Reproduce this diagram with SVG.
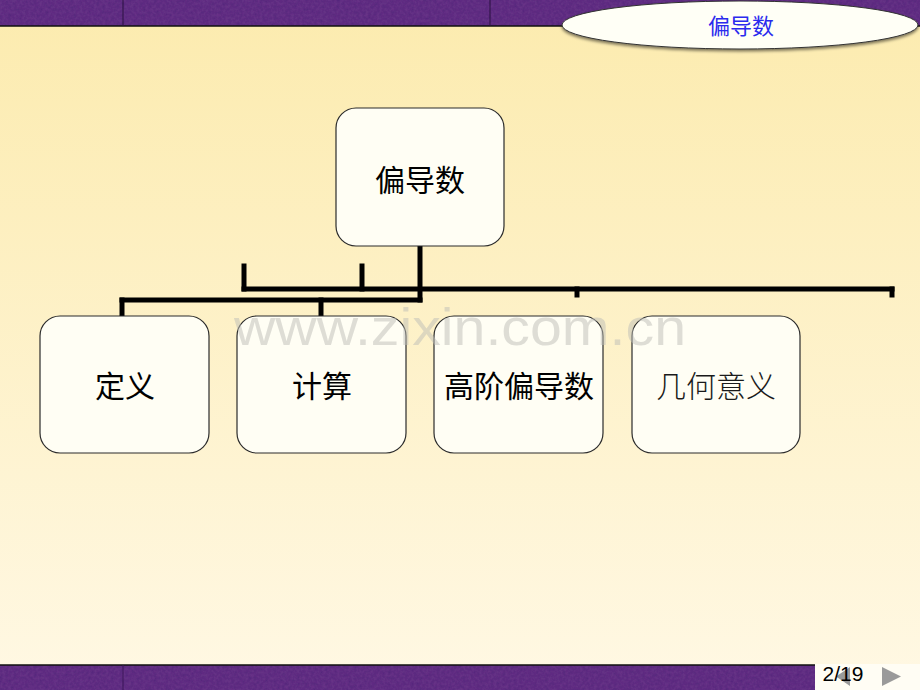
<svg xmlns="http://www.w3.org/2000/svg" width="920" height="690" viewBox="0 0 920 690">
  <defs>
    <linearGradient id="bg" x1="0" y1="0" x2="0" y2="1">
      <stop offset="0" stop-color="#FCEBAE"/>
      <stop offset="1" stop-color="#FFF8E4"/>
    </linearGradient>
    <filter id="noise" x="0" y="0" width="100%" height="100%">
      <feTurbulence type="fractalNoise" baseFrequency="0.35" numOctaves="2" seed="3" result="t"/>
      <feColorMatrix in="t" type="matrix" values="0 0 0 0 0.2  0 0 0 0 0.05  0 0 0 0 0.3  0 0 0 0.55 0" result="c"/>
      <feComposite in="c" in2="SourceGraphic" operator="in" result="m"/>
      <feMerge><feMergeNode in="SourceGraphic"/><feMergeNode in="m"/></feMerge>
    </filter>
    <filter id="shadow" x="-10%" y="-20%" width="120%" height="160%">
      <feDropShadow dx="0" dy="2" stdDeviation="1.5" flood-color="#000" flood-opacity="0.5"/>
    </filter>
    <style>
      .bar { fill: #53267A; }
      .node rect { fill: #FFFEF4; stroke: #2B2B2B; stroke-width: 1.2; }
      .lbl { font-family: "Noto Sans CJK SC", "Noto Sans", sans-serif; font-size: 30px; fill: #000; text-anchor: middle; font-weight: 400; }
      .lbl.light { font-weight: 300; fill: #1a1a1a; }
      .conn line { stroke: #000; stroke-width: 5; stroke-linecap: square; }
      .wm { font-family: "Liberation Sans", Arial, sans-serif; font-size: 52px; fill: #BEBEB8; opacity: 0.5; }
    </style>
  </defs>

  <rect width="920" height="690" fill="url(#bg)"/>

  <!-- top bar -->
  <g id="top-bar">
    <rect class="bar" x="0" y="0" width="920" height="26" filter="url(#noise)"/>
    <line x1="0" y1="26" x2="920" y2="26" stroke="#111" stroke-width="1.5"/>
    <line x1="123" y1="0" x2="123" y2="26" stroke="#2a1040" stroke-width="1"/>
    <line x1="490" y1="0" x2="490" y2="26" stroke="#2a1040" stroke-width="1"/>
  </g>

  <!-- bottom bar -->
  <g id="bottom-bar">
    <rect class="bar" x="0" y="665" width="815" height="25" filter="url(#noise)"/>
    <line x1="0" y1="665" x2="815" y2="665" stroke="#111" stroke-width="1.5"/>
    <line x1="123" y1="665" x2="123" y2="690" stroke="#3a1458" stroke-width="1"/>
    <rect x="815" y="664" width="105" height="26" fill="#FFFDF4"/>
  </g>

  <!-- title ellipse -->
  <g id="title">
    <ellipse cx="740" cy="25" rx="178" ry="24" fill="#FFFFF6" stroke="#333" stroke-width="1" filter="url(#shadow)"/>
    <text x="741" y="34" font-family="Noto Sans CJK SC, sans-serif" font-size="22" fill="#2B2BEE" text-anchor="middle">偏导数</text>
  </g>

  <!-- connectors -->
  <g id="connectors" class="conn">
    <line x1="420" y1="247" x2="420" y2="300"/>
    <line x1="122" y1="300" x2="420" y2="300"/>
    <line x1="122" y1="300" x2="122" y2="314"/>
    <line x1="321" y1="300" x2="321" y2="314"/>
    <line x1="244" y1="266" x2="244" y2="289"/>
    <line x1="362" y1="266" x2="362" y2="289"/>
    <line x1="244" y1="289" x2="892" y2="289"/>
    <line x1="577" y1="289" x2="577" y2="295"/>
    <line x1="892" y1="289" x2="892" y2="295"/>
  </g>

  <!-- nodes -->
  <g id="node-root" class="node">
    <rect x="336" y="108" width="168" height="138" rx="20"/>
    <text class="lbl" x="420" y="191">偏导数</text>
  </g>
  <g id="node-def" class="node">
    <rect x="40" y="316" width="169" height="137" rx="20"/>
    <text class="lbl" x="125" y="397">定义</text>
  </g>
  <g id="node-calc" class="node">
    <rect x="237" y="316" width="169" height="137" rx="20"/>
    <text class="lbl" x="322" y="397">计算</text>
  </g>
  <g id="node-high" class="node">
    <rect x="434" y="316" width="169" height="137" rx="20"/>
    <text class="lbl" x="519" y="397">高阶偏导数</text>
  </g>
  <g id="node-geo" class="node">
    <rect x="632" y="316" width="168" height="137" rx="20"/>
    <text class="lbl light" x="716" y="397">几何意义</text>
  </g>

  <!-- watermark -->
  <text class="wm" x="234" y="345" textLength="452" lengthAdjust="spacingAndGlyphs">www.zixin.com.cn</text>

  <!-- page number -->
  <g id="pager">
    <polygon points="850,667 850,686 836,676.5" fill="#9A9A9A"/>
    <text x="843" y="681" font-family="Liberation Sans, Arial, sans-serif" font-size="21" fill="#000" text-anchor="middle">2/19</text>
    <polygon points="882,667 882,686 901,676.5" fill="#9A9A9A"/>
  </g>
</svg>
